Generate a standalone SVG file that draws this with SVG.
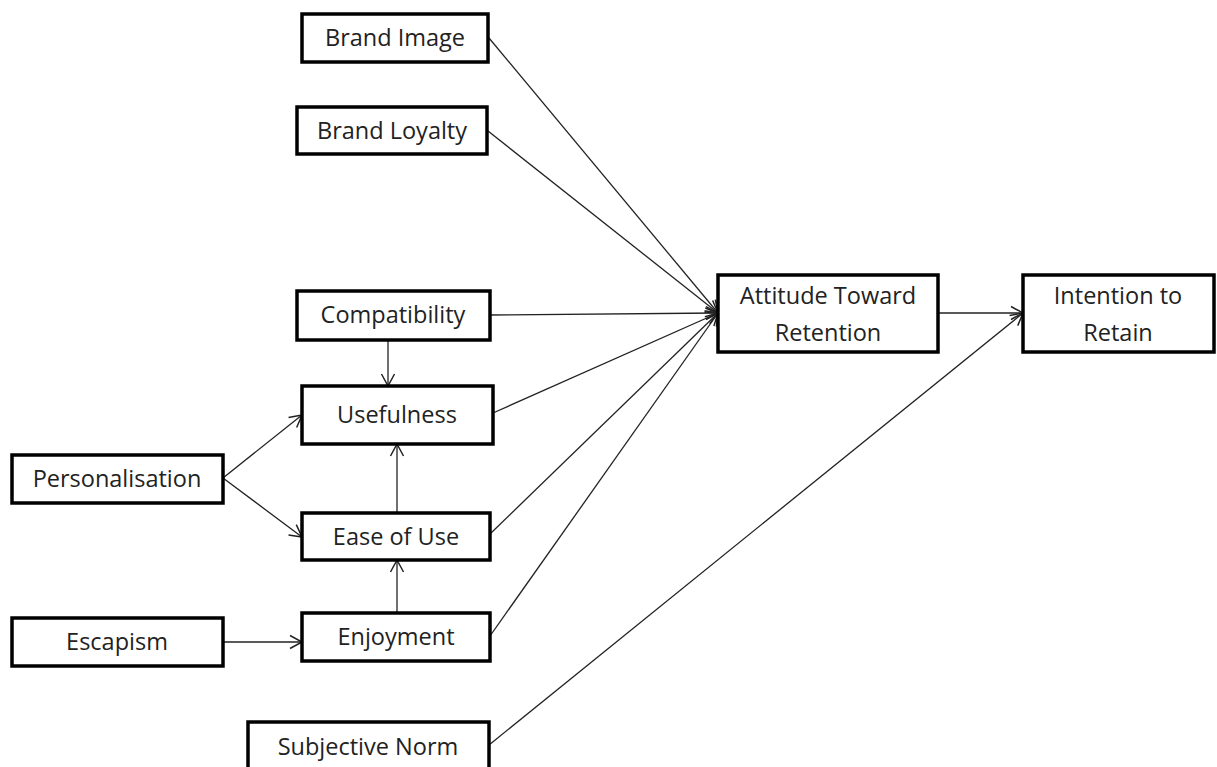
<svg xmlns="http://www.w3.org/2000/svg" width="1217" height="767" viewBox="0 0 1217 767">
<style>
.box{fill:#fff;stroke:#000;stroke-width:3.5}
.t{font-family:"Open Sans","Liberation Sans",sans-serif;font-size:23.5px;fill:#222;text-anchor:middle;dominant-baseline:central}
.c{stroke:#222;stroke-width:1.3;fill:none;marker-end:url(#a)}
</style>
<defs>
<marker id="a" markerUnits="userSpaceOnUse" markerWidth="16" markerHeight="16" viewBox="-14 -8 16 16" refX="0" refY="0" orient="auto">
<path d="M-12,-6.5 L0,0 L-12,6.5" fill="none" stroke="#222" stroke-width="1.5"/>
</marker>
</defs>
<rect width="1217" height="767" fill="#fff"/>
<g id="connectors">
<line class="c" x1="489" y1="38" x2="718" y2="313"/>
<line class="c" x1="488" y1="131" x2="718" y2="313"/>
<line class="c" x1="490" y1="315" x2="718" y2="313"/>
<line class="c" x1="493" y1="413" x2="718" y2="313"/>
<line class="c" x1="490" y1="534" x2="718" y2="313"/>
<line class="c" x1="490" y1="636" x2="718" y2="313"/>
<line class="c" x1="938" y1="313" x2="1023" y2="313"/>
<line class="c" x1="489" y1="745" x2="1023" y2="313"/>
<line class="c" x1="388" y1="340" x2="388" y2="386"/>
<line class="c" x1="397" y1="513" x2="397" y2="444"/>
<line class="c" x1="397" y1="613" x2="397" y2="560"/>
<line class="c" x1="223" y1="478" x2="302" y2="415"/>
<line class="c" x1="223" y1="478" x2="302" y2="537"/>
<line class="c" x1="223" y1="642" x2="302" y2="642"/>
</g>
<g id="brand-image"><rect class="box" x="302" y="14" width="186" height="48"/><text class="t" x="395" y="37">Brand Image</text></g>
<g id="brand-loyalty"><rect class="box" x="297" y="107" width="190" height="47"/><text class="t" x="392" y="130">Brand Loyalty</text></g>
<g id="compatibility"><rect class="box" x="297" y="291" width="193" height="49"/><text class="t" x="393" y="314">Compatibility</text></g>
<g id="usefulness"><rect class="box" x="302" y="386" width="191" height="58"/><text class="t" x="397" y="414">Usefulness</text></g>
<g id="personalisation"><rect class="box" x="12" y="455" width="211" height="48"/><text class="t" x="117" y="478">Personalisation</text></g>
<g id="ease-of-use"><rect class="box" x="302" y="513" width="188" height="47"/><text class="t" x="396" y="536">Ease of Use</text></g>
<g id="escapism"><rect class="box" x="12" y="618" width="211" height="48"/><text class="t" x="117" y="641">Escapism</text></g>
<g id="enjoyment"><rect class="box" x="302" y="613" width="188" height="48"/><text class="t" x="396" y="636">Enjoyment</text></g>
<g id="subjective-norm"><rect class="box" x="248" y="722" width="241" height="60"/><text class="t" x="368" y="746">Subjective Norm</text></g>
<g id="attitude"><rect class="box" x="718" y="275" width="220" height="77"/><text class="t" x="828" y="295">Attitude Toward</text><text class="t" x="828" y="332">Retention</text></g>
<g id="intention"><rect class="box" x="1023" y="275" width="191" height="77"/><text class="t" x="1118" y="295">Intention to</text><text class="t" x="1118" y="332">Retain</text></g>
</svg>
